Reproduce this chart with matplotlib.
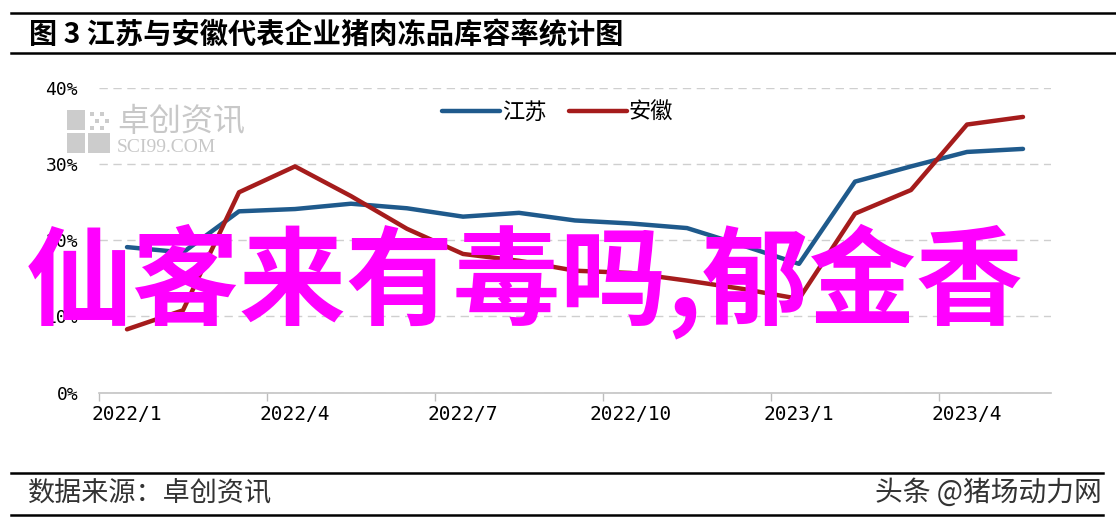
import matplotlib.pyplot as plt
from matplotlib.lines import Line2D
from matplotlib.patches import Rectangle

# Data, unit: %
months = ["2022/1", "2022/2", "2022/3", "2022/4", "2022/5", "2022/6", "2022/7", "2022/8",
          "2022/9", "2022/10", "2022/11", "2022/12", "2023/1", "2023/2", "2023/3", "2023/4", "2023/5"]
jiangsu = [19.1, 18.4, 23.8, 24.1, 24.8, 24.2, 23.1, 23.6, 22.6, 22.2, 21.6, 19.3, 16.9, 27.7, 29.7, 31.6, 32.0]
anhui = [8.3, 10.8, 26.3, 29.7, 25.8, 21.5, 18.2, 17.3, 16.0, 15.7, 14.7, 13.6, 12.3, 23.5, 26.6, 35.2, 36.2]
yticks = [0, 10, 20, 30, 40]
label_every = 3

title = "图 3 江苏与安徽代表企业猪肉冻品库容率统计图"
source = "数据来源：卓创资讯"
credit = "头条 @猪场动力网"
overlay = "仙客来有毒吗,郁金香"

CJK = ["Noto Sans CJK SC", "DejaVu Sans"]
plt.rcParams["font.family"] = CJK

W, H = 1116, 528
fig = plt.figure(figsize=(W / 100, H / 100), dpi=100)


def fx(px):
    return px / W


def fy(py):
    return 1 - py / H


# header / footer rules
for y in (13, 53):
    fig.add_artist(Line2D([fx(11), 1.0], [fy(y), fy(y)], color="black", lw=1.8))
for y in (473, 515):
    fig.add_artist(Line2D([fx(11), fx(1103)], [fy(y), fy(y)], color="black", lw=1.8))

fig.text(fx(29), fy(35), title, fontsize=20.3, fontweight="bold", va="center", ha="left")
fig.text(fx(28), fy(493), source, fontsize=19.5, color="#333333", va="center", ha="left")
fig.text(fx(1102), fy(493), credit, fontsize=20, color="#333333", va="center", ha="right")

# plot area
ax = fig.add_axes([fx(99), fy(392.5), fx(1051) - fx(99), fy(88) - fy(392.5)])
x = list(range(len(months)))
ax.plot(x, jiangsu, color="#1f5a8c", lw=3.2, solid_joinstyle="round", solid_capstyle="round", label="江苏", zorder=3)
ax.plot(x, anhui, color="#a51c1c", lw=3.2, solid_joinstyle="round", solid_capstyle="round", label="安徽", zorder=3)

ax.set_xlim(-0.5, len(months) - 0.5)
ax.set_ylim(0, 40)
ax.set_yticks(yticks)
ax.set_yticklabels([f"{v}%" for v in yticks], fontfamily="DejaVu Sans Mono", fontsize=13)
ax.yaxis.grid(True, ls=(0, (6, 4)), color="#cfcfcf", lw=1)
ax.set_axisbelow(True)

major = x[::label_every]
ax.set_xticks(major)
ax.set_xticklabels([months[i] for i in major], fontfamily="DejaVu Sans Mono", fontsize=14)
ax.set_xticks([i - 0.5 for i in major], minor=True)
ax.tick_params(axis="x", which="major", length=0, pad=9)
ax.tick_params(axis="x", which="minor", length=6, color="#bdbdbd", width=1)
ax.tick_params(axis="y", length=0, pad=15)
for side in ("top", "right", "left"):
    ax.spines[side].set_visible(False)
ax.spines["bottom"].set_color("#c4c4c4")
ax.spines["bottom"].set_linewidth(1.2)

ax.legend(loc="center", bbox_to_anchor=(0.482, 0.921), ncol=2, frameon=False, fontsize=16,
          handlelength=2.6, handletextpad=0.1, columnspacing=1.0)

# watermark
gray = "#cccccc"
for (x0, y0, w, h) in [(67, 110, 18, 20), (67, 133, 18, 20), (88, 133, 22, 20)]:
    fig.add_artist(Rectangle((fx(x0), fy(y0 + h)), fx(w), h / H, color=gray, lw=0))
for (dx, dy) in [(90, 112), (100, 112), (95, 119), (105, 119), (90, 126), (100, 126)]:
    fig.add_artist(Rectangle((fx(dx), fy(dy + 4)), fx(4), 4 / H, color=gray, lw=0))
fig.text(fx(117), fy(122), "卓创资讯", fontsize=23, color="#c8c8c8", va="center", ha="left")
fig.text(fx(117), fy(148), "SCI99.COM", fontsize=14, color="#c8c8c8", va="center", ha="left",
         fontfamily="Liberation Serif")

# overlay text
fig.text(fx(525), fy(281), overlay, fontsize=77, fontweight="bold", color="#ff00ff",
         va="center", ha="center", zorder=10)

fig.savefig("out.png", dpi=100)
